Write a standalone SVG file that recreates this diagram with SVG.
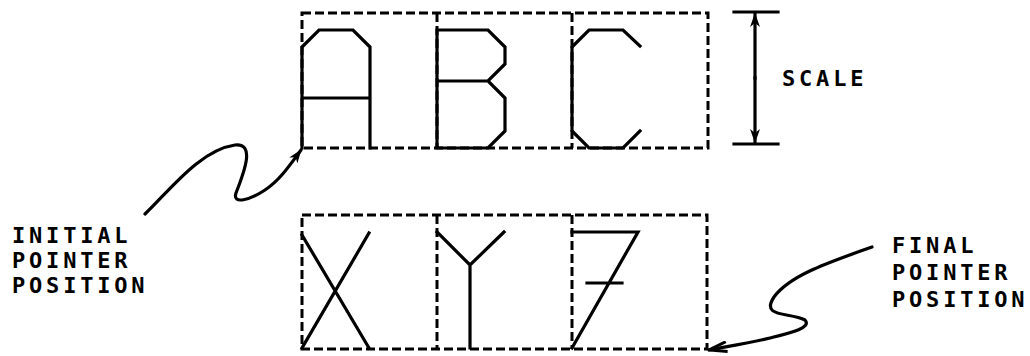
<svg xmlns="http://www.w3.org/2000/svg" width="1030" height="356" viewBox="0 0 1030 356">
<style>
.box{fill:none;stroke:#000;stroke-width:3;stroke-dasharray:9 4}
.ln{fill:none;stroke:#000;stroke-width:3.2;stroke-linejoin:miter;stroke-linecap:square}
.cv{fill:none;stroke:#000;stroke-width:3.2;stroke-linecap:round}
.t{font-family:"DejaVu Sans Mono",monospace;font-weight:bold;font-size:22px;letter-spacing:3.8px;fill:#000}
</style>
<defs>
<marker id="ah" viewBox="0 0 14 10" refX="13" refY="5" markerWidth="14" markerHeight="10" markerUnits="userSpaceOnUse" orient="auto">
<path d="M0,0 L14,5 L0,10 L4,5 Z" fill="#000"/>
</marker>
<marker id="av" viewBox="0 0 20 12" refX="19" refY="6" markerWidth="20" markerHeight="12" markerUnits="userSpaceOnUse" orient="auto">
<path d="M1,1 L19,6 L1,11" fill="none" stroke="#000" stroke-width="3"/>
</marker>
</defs>
<g id="top-box">
<rect class="box" x="302" y="13" width="406" height="135"/>
<line class="box" x1="437" y1="13" x2="437" y2="148"/>
<line class="box" x1="572" y1="13" x2="572" y2="148"/>
</g>
<g id="letter-A">
<path class="ln" d="M302,148 L302,47 L319,30 L353,30 L370,47 L370,148 M302,98 L370,98"/>
</g>
<g id="letter-B">
<path class="ln" d="M437,148 L437,30 L488,30 L505,47 L505,64 L488,81 L437,81 M488,81 L505,98 L505,131 L488,148 L437,148"/>
</g>
<g id="letter-C">
<path class="ln" d="M640,46 L623,30 L589,30 L572,47 L572,131 L589,148 L623,148 L640,131"/>
</g>
<g id="bottom-box">
<rect class="box" x="302" y="215" width="405" height="134"/>
<line class="box" x1="437" y1="215" x2="437" y2="349"/>
<line class="box" x1="572" y1="215" x2="572" y2="349"/>
</g>
<g id="letter-X">
<path class="ln" d="M302,235 L369,348 M369,233 L302,348"/>
</g>
<g id="letter-Y">
<path class="ln" d="M437,232 L470,265 L504,232 M470,265 L470,348"/>
</g>
<g id="letter-Z">
<path class="ln" d="M572,232 L638,232 L572,348 M587,283 L622,283"/>
</g>
<g id="scale">
<line class="ln" x1="734" y1="12" x2="778" y2="12" stroke-linecap="butt"/>
<line class="ln" x1="734" y1="144" x2="778" y2="144" stroke-linecap="butt"/>
<line class="ln" x1="755" y1="78" x2="755" y2="14" marker-end="url(#ah)" stroke-linecap="butt"/>
<line class="ln" x1="755" y1="78" x2="755" y2="142" marker-end="url(#ah)" stroke-linecap="butt"/>
<text class="t" x="782" y="86">SCALE</text>
</g>
<g id="initial-label">
<text class="t" x="12" y="243">INITIAL</text>
<text class="t" x="12" y="268">POINTER</text>
<text class="t" x="12" y="293">POSITION</text>
</g>
<g id="final-label">
<text class="t" x="892" y="253">FINAL</text>
<text class="t" x="892" y="280">POINTER</text>
<text class="t" x="892" y="307">POSITION</text>
</g>
<g id="connectors">
<path class="cv" d="M145,214 C170,190 200,150 235,145 C255,143 245,170 236,193 C232,205 250,200 265,190 C280,180 290,165 301,150" marker-end="url(#ah)"/>
<path class="cv" d="M872,247 C830,262 790,275 774,297 C760,318 790,312 805,320 C812,328 790,333 770,338 C750,343 730,346 709,350" marker-end="url(#av)"/>
</g>
</svg>
